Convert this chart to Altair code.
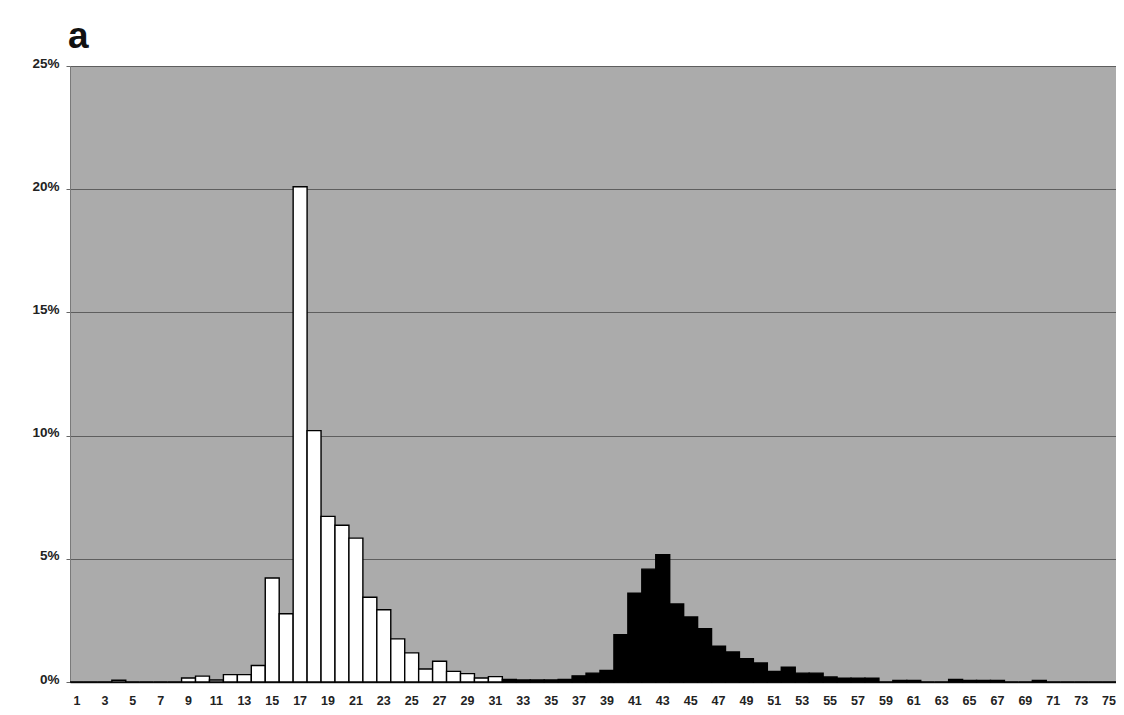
import altair as alt
import pandas as pd

categories = list(range(1, 76))
values_pct = [
    0, 0, 0, 0.07, 0, 0, 0, 0, 0.16, 0.24,
    0.08, 0.30, 0.30, 0.67, 4.22, 2.77, 20.1, 10.2, 6.72, 6.36,
    5.84, 3.44, 2.93, 1.75, 1.18, 0.53, 0.84, 0.43, 0.34, 0.16,
    0.22, 0.10, 0.08, 0.08, 0.08, 0.10, 0.25, 0.36, 0.47, 1.92,
    3.60, 4.58, 5.17, 3.17, 2.64, 2.16, 1.45, 1.22, 0.95, 0.77,
    0.43, 0.60, 0.36, 0.36, 0.20, 0.15, 0.15, 0.15, 0, 0.06,
    0.06, 0, 0, 0.10, 0.06, 0.06, 0.06, 0, 0, 0.06,
    0, 0, 0, 0, 0,
]
groups = ["first" if c <= 31 else "second" for c in categories]
x_label_values = [c for c in categories if c % 2 == 1]
y_ticks = [0, 0.05, 0.10, 0.15, 0.20, 0.25]
panel_label = ["a"]

df = pd.DataFrame({
    "cat": categories,
    "share": [v / 100 for v in values_pct],
    "group": groups,
})

bars = alt.Chart(df).mark_bar(stroke="#000000", strokeWidth=1.4).encode(
    x=alt.X("cat:O", sort=categories,
            scale=alt.Scale(paddingInner=0, paddingOuter=0),
            axis=alt.Axis(values=x_label_values, labelAngle=0, title=None,
                          ticks=False, domainColor="#222222", domainWidth=1.5,
                          labelFont="Liberation Sans", labelFontWeight="bold",
                          labelFontSize=12.5, labelColor="#222222", labelPadding=12)),
    y=alt.Y("share:Q", scale=alt.Scale(domain=[0, 0.25], nice=False),
            axis=alt.Axis(values=y_ticks, format=".0%", title=None,
                          grid=True, gridColor="#5e5e5e", gridWidth=1,
                          domain=True, domainColor="#7a7a7a", domainWidth=1,
                          ticks=True, tickSize=4, tickColor="#666666",
                          labelFont="Liberation Sans", labelFontWeight="bold",
                          labelFontSize=13.5, labelColor="#222222",
                          labelPadding=7, labelOffset=-3)),
    color=alt.Color("group:N",
                    scale=alt.Scale(domain=["first", "second"], range=["#ffffff", "#000000"]),
                    legend=None),
)

label = alt.Chart(pd.DataFrame({"t": panel_label})).mark_text(
    font="Liberation Sans", fontSize=37, fontWeight="bold", color="#111111",
    align="left", baseline="alphabetic"
).encode(
    text="t:N",
    x=alt.value(-2),
    y=alt.value(-18),
)

chart = alt.layer(bars, label).properties(
    width=1046,
    height=616,
    background="#ffffff",
    autosize=alt.AutoSizeParams(type="none"),
    padding={"left": 62, "top": 58, "right": 0, "bottom": 25},
).configure_view(
    fill="#ababab", stroke=None
)

chart.save("out.html", embed_options={"renderer": "svg", "actions": False})
